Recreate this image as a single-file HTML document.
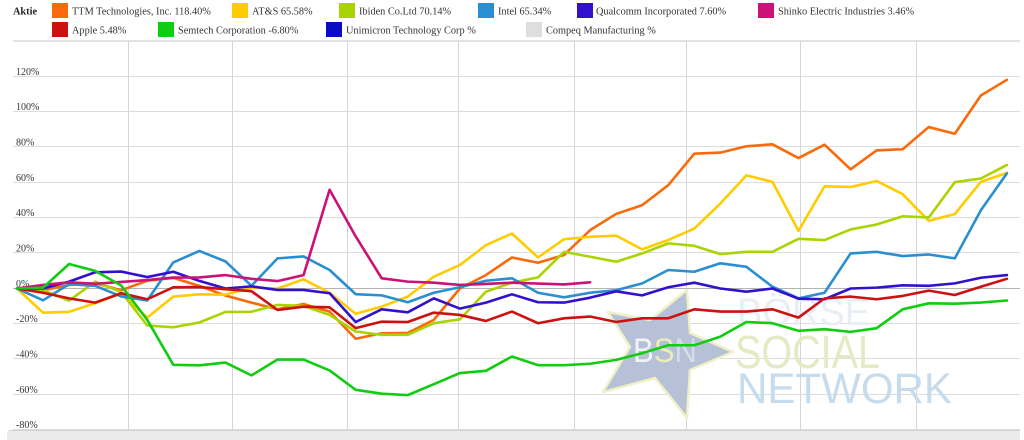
<!DOCTYPE html>
<html><head><meta charset="utf-8"><style>
html,body{margin:0;padding:0;background:#fff;}
svg{display:block;}
text.lg{font-family:"Liberation Serif","DejaVu Serif",serif;fill:#333;}
</style></head><body>
<svg width="1024" height="440" viewBox="0 0 1024 440" xmlns="http://www.w3.org/2000/svg">
<!-- legend -->
<g font-size="10.3">
<text class="lg" x="13" y="14.5" font-weight="bold" style="fill:#222">Aktie</text>
<rect x="52" y="3" width="16" height="15" fill="#fa6a0a"/><text class="lg" x="72" y="14.5">TTM Technologies, Inc.  118.40%</text>
<rect x="232" y="3" width="16" height="15" fill="#ffcc00"/><text class="lg" x="252" y="14.5">AT&amp;S  65.58%</text>
<rect x="339" y="3" width="16" height="15" fill="#aad400"/><text class="lg" x="359" y="14.5">Ibiden Co.Ltd  70.14%</text>
<rect x="478" y="3" width="16" height="15" fill="#2a8fd0"/><text class="lg" x="498" y="14.5">Intel  65.34%</text>
<rect x="577" y="3" width="16" height="15" fill="#3311cc"/><text class="lg" x="596" y="14.5">Qualcomm Incorporated  7.60%</text>
<rect x="758" y="3" width="16" height="15" fill="#cc1177"/><text class="lg" x="778" y="14.5">Shinko Electric Industries  3.46%</text>
<rect x="52" y="22" width="16" height="15" fill="#cc1111"/><text class="lg" x="72" y="33.5">Apple  5.48%</text>
<rect x="158" y="22" width="16" height="15" fill="#11cc11"/><text class="lg" x="178" y="33.5">Semtech Corporation  -6.80%</text>
<rect x="326" y="22" width="16" height="15" fill="#0b0bc4"/><text class="lg" x="346" y="33.5">Unimicron Technology Corp  %</text>
<rect x="526" y="22" width="16" height="15" fill="#dedede"/><text class="lg" x="546" y="33.5">Compeq Manufacturing  %</text>
</g>
<!-- top border -->
<line x1="13" y1="41" x2="1020" y2="41" stroke="#e2e2e2" stroke-width="2"/>
<!-- vertical grid -->
<g stroke="#d4d4dc" stroke-width="1">
<line x1="128.5" y1="41" x2="128.5" y2="440"/>
<line x1="232.5" y1="41" x2="232.5" y2="440"/>
<line x1="347.5" y1="41" x2="347.5" y2="440"/>
<line x1="458.5" y1="41" x2="458.5" y2="440"/>
<line x1="574.5" y1="41" x2="574.5" y2="440"/>
<line x1="686.5" y1="41" x2="686.5" y2="440"/>
<line x1="800.5" y1="41" x2="800.5" y2="440"/>
<line x1="916.5" y1="41" x2="916.5" y2="440"/>
</g>
<!-- horizontal grid -->
<g stroke="#dcdcdc" stroke-width="1">
<line x1="13" y1="76.5" x2="1020" y2="76.5"/>
<line x1="13" y1="111.5" x2="1020" y2="111.5"/>
<line x1="13" y1="146.5" x2="1020" y2="146.5"/>
<line x1="13" y1="182.5" x2="1020" y2="182.5"/>
<line x1="13" y1="217.5" x2="1020" y2="217.5"/>
<line x1="13" y1="252.5" x2="1020" y2="252.5"/>
<line x1="13" y1="323.5" x2="1020" y2="323.5"/>
<line x1="13" y1="358.5" x2="1020" y2="358.5"/>
<line x1="13" y1="394.5" x2="1020" y2="394.5"/>
<line x1="13" y1="429.5" x2="1020" y2="429.5"/>
</g>
<line x1="13" y1="288.5" x2="1020" y2="288.5" stroke="#b4b4b4" stroke-width="1"/>
<!-- y labels -->
<g font-size="10">
<text class="lg" x="16" y="75">120%</text>
<text class="lg" x="16" y="110">100%</text>
<text class="lg" x="16" y="145.5">80%</text>
<text class="lg" x="16" y="181">60%</text>
<text class="lg" x="16" y="216">40%</text>
<text class="lg" x="16" y="251.5">20%</text>
<text class="lg" x="16" y="287">0%</text>
<text class="lg" x="16" y="322">-20%</text>
<text class="lg" x="16" y="357.5">-40%</text>
<text class="lg" x="16" y="393">-60%</text>
<text class="lg" x="16" y="428">-80%</text>
</g>
<!-- watermark -->
<polygon points="687,290 650,320 608,312 630,347 603,392 655,378 687,418 690,370 733,352 690,333" fill="#b6c0d6" stroke="#eef0c8" stroke-width="2.5" stroke-linejoin="round"/>
<text x="633" y="362" font-size="34" textLength="64" lengthAdjust="spacingAndGlyphs" font-family="'Liberation Sans',sans-serif" fill="#f2f3f6">B<tspan fill="#e9ebb8">S</tspan><tspan fill="#d4dcea">N</tspan></text>
<text x="737" y="325" font-size="38" textLength="133" lengthAdjust="spacingAndGlyphs" font-family="'Liberation Sans',sans-serif" fill="#e9eef4">BÖRSE</text>
<text x="735" y="368" font-size="46" textLength="145" lengthAdjust="spacingAndGlyphs" font-family="'Liberation Sans',sans-serif" fill="#e5eac4">SOCIAL</text>
<text x="737" y="403" font-size="43" textLength="215" lengthAdjust="spacingAndGlyphs" font-family="'Liberation Sans',sans-serif" fill="#c6dcec">NETWORK</text>
<!-- series -->
<g transform="translate(17,288.5) scale(26.05,-1.7625)" fill="none" stroke-width="2.6" stroke-linejoin="round" stroke-linecap="round">
<polyline vector-effect="non-scaling-stroke" stroke="#fa6a0a" points="0,0 1,-1 2,2 3,3 4,-1 5,4.4 6,6 7,1.5 8,-4 9,-8 10,-11.8 11,-8.8 12,-13.1 13,-28.5 14,-25.4 15,-25.2 16,-17.8 17,0 18,7.6 19,17.6 20,14.6 21,19 22,33.1 23,42.3 24,47.3 25,58.6 26,76.5 27,77.1 28,80.7 29,81.8 30,74 31,81.6 32,67.6 33,78.4 34,79 35,91.6 36,87.8 37,109.5 38,118.4"/>
<polyline vector-effect="non-scaling-stroke" stroke="#ffcc00" points="0,0 1,-13.7 2,-13.2 3,-8.4 4,-2.7 5,-16.5 6,-4.6 7,-3.3 8,-3.5 9,0.5 10,0 11,5.2 12,-2.4 13,-14.3 14,-10.3 15,-4.6 16,6.7 17,13.3 18,24.6 19,31.2 20,17.6 21,28 22,29.3 23,30 24,22.2 25,27.5 26,34 27,48.2 28,64.2 29,60.5 30,32.7 31,58 32,57.6 33,61 34,53.5 35,38.4 36,42.2 37,60.5 38,65.6"/>
<polyline vector-effect="non-scaling-stroke" stroke="#aad400" points="0,0 1,-1 2,-6.9 3,3.9 4,-2 5,-21 6,-22 7,-19.3 8,-13.3 9,-13.2 10,-9.3 11,-9.9 12,-15 13,-24.4 14,-26.3 15,-26.3 16,-19.7 17,-17.5 18,-1.8 19,3.3 20,6.3 21,20.8 22,18 23,15.2 24,19.9 25,25.6 26,24.2 27,19.5 28,20.8 29,20.8 30,28.2 31,27.5 32,33.5 33,36.3 34,41 35,40.3 36,60.3 37,62.4 38,70.1"/>
<polyline vector-effect="non-scaling-stroke" stroke="#2a8fd0" points="0,0 1,-6.7 2,2.5 3,1.5 4,-4.5 5,-6.8 6,14.8 7,21.3 8,15.4 9,1.5 10,17.1 11,18.2 12,10.5 13,-3.2 14,-3.9 15,-7.8 16,-2.4 17,0.7 18,4.4 19,5.8 20,-2.4 21,-5 22,-2.4 23,-1 24,2.9 25,10.5 26,9.5 27,14.3 28,12.3 29,1 30,-5.6 31,-2.4 32,19.9 33,20.8 34,18.4 35,19.3 36,17.1 37,44.4 38,65.3"/>
<polyline vector-effect="non-scaling-stroke" stroke="#3311cc" points="0,0 1,0 2,3.9 3,9.2 4,9.6 5,6.5 6,9.5 7,4.3 8,0 9,1.2 10,-0.8 11,-0.8 12,-2.7 13,-19 14,-11.8 15,-13.5 16,-5.6 17,-11.4 18,-8 19,-3.3 20,-7.8 21,-8 22,-5.2 23,-1.6 24,-3.9 25,0.7 26,3.3 27,0 28,-1.8 29,0 30,-5.8 31,-6.1 32,0 33,0.5 34,1.8 35,1.5 36,2.9 37,6.1 38,7.6"/>
<polyline vector-effect="non-scaling-stroke" stroke="#cc1177" points="0,0 1,2 2,3.5 3,2.7 4,3.7 5,4.8 6,6.2 7,6.3 8,7.6 9,5.5 10,4.2 11,7.6 12,56 13,29.6 14,5.8 15,3.9 16,3.3 17,2 18,2.6 19,3.3 20,2.8 21,2.3 22,3.5"/>
<polyline vector-effect="non-scaling-stroke" stroke="#cc1111" points="0,0 1,-2.4 2,-5.6 3,-8 4,-2.7 5,-6.1 6,0.7 7,0.8 8,-0.4 9,-1.5 10,-12.2 11,-10.3 12,-10.7 13,-22.5 14,-18.8 15,-19 16,-13.7 17,-15 18,-18.4 19,-13.1 20,-19.7 21,-16.9 22,-15.9 23,-19 24,-16.9 25,-16.9 26,-11.8 27,-13.1 28,-13.1 29,-11.8 30,-16.5 31,-5.6 32,-4.6 33,-6.1 34,-4.2 35,-1.2 36,-3.7 37,1 38,5.5"/>
<polyline vector-effect="non-scaling-stroke" stroke="#11cc11" points="0,0 1,0.5 2,13.9 3,10 4,1.7 5,-17.8 6,-43.3 7,-43.6 8,-42 9,-49.3 10,-40.3 11,-40.3 12,-46.5 13,-57.5 14,-59.7 15,-60.5 16,-54.3 17,-48 18,-46.7 19,-38.6 20,-43.5 21,-43.5 22,-42.7 23,-40.5 24,-36.7 25,-32.2 26,-32.2 27,-27.3 28,-19 29,-19.7 30,-24 31,-23.1 32,-24.6 33,-22.5 34,-11.8 35,-8.4 36,-8.6 37,-8 38,-6.8"/>
</g>
<!-- bottom navigator bar -->
<path d="M7,440 L7,434 Q7,430 11,430 L1020,430 L1020,440 Z" fill="#ebebeb"/>
<line x1="9" y1="430.5" x2="1020" y2="430.5" stroke="#d2d2d2" stroke-width="1"/>
</svg>
</body></html>
